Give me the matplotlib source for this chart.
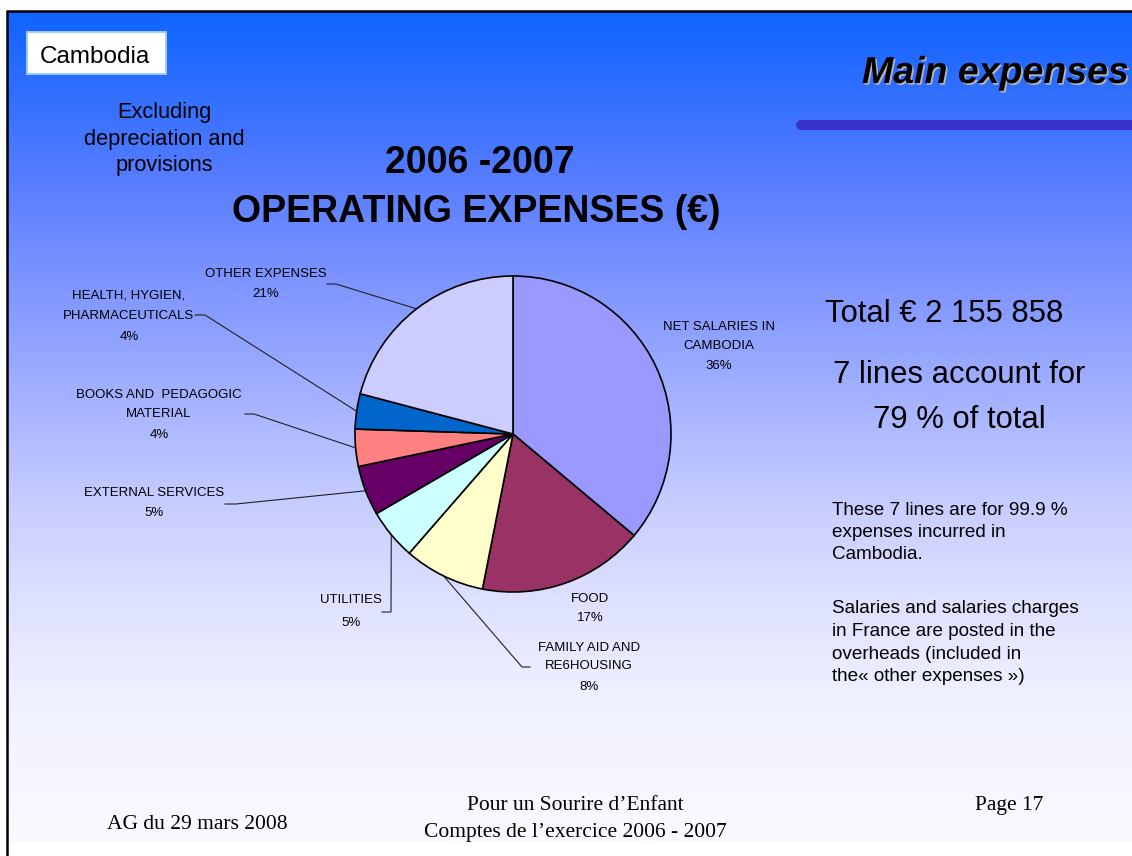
import numpy as np
import matplotlib
matplotlib.use("Agg")
import matplotlib.pyplot as plt
import matplotlib.patheffects as pe
from matplotlib.patches import Rectangle

# ---------------- data ----------------
categories = ["NET SALARIES IN\nCAMBODIA", "FOOD", "FAMILY AID AND\nRE6HOUSING", "UTILITIES",
              "EXTERNAL SERVICES", "BOOKS AND  PEDAGOGIC\nMATERIAL",
              "HEALTH, HYGIEN,\nPHARMACEUTICALS", "OTHER EXPENSES"]
shares = [36.1, 17.0, 8.3, 5.2, 5.1, 3.8, 3.6, 20.9]          # % of operating expenses
pct_labels = ["36%", "17%", "8%", "5%", "5%", "4%", "4%", "21%"]
slice_colors = ["#9999FF", "#993366", "#FFFFCC", "#CCFFFF",
                "#660066", "#FF8080", "#0066CC", "#CCCCFF"]
total_text = "Total € 2 155 858"

# ---------------- layout ----------------
W, H = 1132, 856
SANS = "Liberation Sans"
SERIF = "Liberation Serif"

fig = plt.figure(figsize=(W / 100, H / 100), dpi=100)
fig.patch.set_facecolor("white")
bg = fig.add_axes([0, 0, 1, 1])
bg.axis("off")

# background gradient of the slide
top_y, bot_y = 11, 842
stop_y = [11, 120, 180, 280, 400, 500, 600, 700, 842]
stop_c = [(15, 100, 255), (60, 115, 255), (88, 125, 255), (125, 148, 255), (165, 178, 255),
          (198, 204, 255), (222, 225, 255), (240, 241, 255), (250, 250, 255)]
rows = np.arange(top_y, bot_y) + 0.5
grad = np.zeros((len(rows), 1, 3))
for k in range(3):
    grad[:, 0, k] = np.interp(rows, stop_y, [c[k] for c in stop_c]) / 255.0
bg.imshow(grad, extent=(7, W, bot_y, top_y), aspect="auto", origin="upper", zorder=0)
bg.set_xlim(0, W)
bg.set_ylim(H, 0)

# slide border
bg.plot([7, 7], [11, H], color="black", lw=1.8, zorder=5, solid_capstyle="butt")
bg.plot([6, W], [11, 11], color="black", lw=1.8, zorder=5, solid_capstyle="butt")

# Cambodia box
bg.add_patch(Rectangle((27, 32), 139, 42, facecolor="white", edgecolor="#9CCBFF", lw=1.4, zorder=3))
bg.text(40, 63, "Cambodia", fontsize=17.5, family=SANS, ha="left", va="baseline", zorder=4)

# Excluding text
for y, s in zip([118, 145, 171], ["Excluding", "depreciation and", "provisions"]):
    bg.text(164, y, s, fontsize=15.7, family=SANS, ha="center", va="baseline", zorder=4)

# Main expenses header + bar
bg.text(862, 83, "Main expenses", fontsize=27, family=SANS, weight="bold", style="italic",
        ha="left", va="baseline", zorder=4,
        path_effects=[pe.SimplePatchShadow(offset=(1.2, -1.2), shadow_rgbFace="#b4b4b4", alpha=1.0),
                      pe.Normal()])
bg.plot([801, W + 20], [125, 125], color="#3A32C8", lw=7.2, solid_capstyle="round", zorder=3)

# chart title
bg.text(480, 173, "2006 -2007", fontsize=27, family=SANS, weight="bold", ha="center", va="baseline", zorder=4)
bg.text(476, 222, "OPERATING EXPENSES (€)", fontsize=27, family=SANS, weight="bold",
        ha="center", va="baseline", zorder=4)

# right-hand text
bg.text(825, 322, total_text, fontsize=22.3, family=SANS, ha="left", va="baseline", zorder=4)
bg.text(959, 383, "7 lines account for", fontsize=22.3, family=SANS, ha="center", va="baseline", zorder=4)
bg.text(959, 428, "79 % of total", fontsize=22.3, family=SANS, ha="center", va="baseline", zorder=4)
for y, s in zip([515, 537, 559], ["These 7 lines are for 99.9 %", "expenses incurred in", "Cambodia."]):
    bg.text(832, y, s, fontsize=13.6, family=SANS, ha="left", va="baseline", zorder=4)
for y, s in zip([613, 636, 659, 681], ["Salaries and salaries charges", "in France are posted in the",
                                        "overheads (included in", "the« other expenses »)"]):
    bg.text(832, y, s, fontsize=13.6, family=SANS, ha="left", va="baseline", zorder=4)

# footer
bg.text(197, 829, "AG du 29 mars 2008", fontsize=15.5, family=SERIF, ha="center", va="baseline", zorder=4)
bg.text(575, 810, "Pour un Sourire d’Enfant", fontsize=15.5, family=SERIF, ha="center", va="baseline", zorder=4)
bg.text(575, 837, "Comptes de l’exercice 2006 - 2007", fontsize=15.5, family=SERIF, ha="center", va="baseline", zorder=4)
bg.text(1009, 810, "Page 17", fontsize=15.5, family=SERIF, ha="center", va="baseline", zorder=4)

# ---------------- pie ----------------
cx, cy, r = 513, 434, 158
pad = 1.1
pax = fig.add_axes([(cx - r * pad) / W, (H - cy - r * pad) / H, 2 * r * pad / W, 2 * r * pad / H])
wedges, _ = pax.pie(shares, colors=slice_colors, startangle=90, counterclock=False, radius=1,
                    wedgeprops=dict(edgecolor="black", linewidth=1.2))
pax.set_xlim(-pad, pad)
pax.set_ylim(-pad, pad)
pax.set_aspect("equal")
pax.axis("off")


def arc_point(w):
    mid = np.deg2rad((w.theta1 + w.theta2) / 2.0)
    disp = pax.transData.transform((np.cos(mid), np.sin(mid)))
    return bg.transData.inverted().transform(disp)


# label positions (center x, baselines of lines) and leader paths (text end, elbow)
label_x = [719, 590, 589, 351, 154, 159, 129, 266]
label_base = [[330, 349, 369], [602, 621], [651, 669, 690], [603, 626], [496, 516],
              [398, 417, 438], [299, 319, 340], [277, 297]]
leaders = [None, None, [(530, 667), (522, 667)], [(382, 612), (391, 612)],
           [(225, 504), (236, 504)], [(245, 414), (254, 414)],
           [(195, 315), (205, 315)], [(327, 284), (336, 284)]]

for i, w in enumerate(wedges):
    lines = categories[i].split("\n") + [pct_labels[i]]
    for y, s in zip(label_base[i], lines):
        bg.text(label_x[i], y, s, fontsize=9.5, family=SANS, ha="center", va="baseline", zorder=4)
    if leaders[i] is not None:
        ax_, ay_ = arc_point(w)
        xs = [leaders[i][0][0], leaders[i][1][0], ax_]
        ys = [leaders[i][0][1], leaders[i][1][1], ay_]
        bg.plot(xs, ys, color="#202020", lw=0.8, zorder=4)

fig.savefig("out.png", dpi=100)
